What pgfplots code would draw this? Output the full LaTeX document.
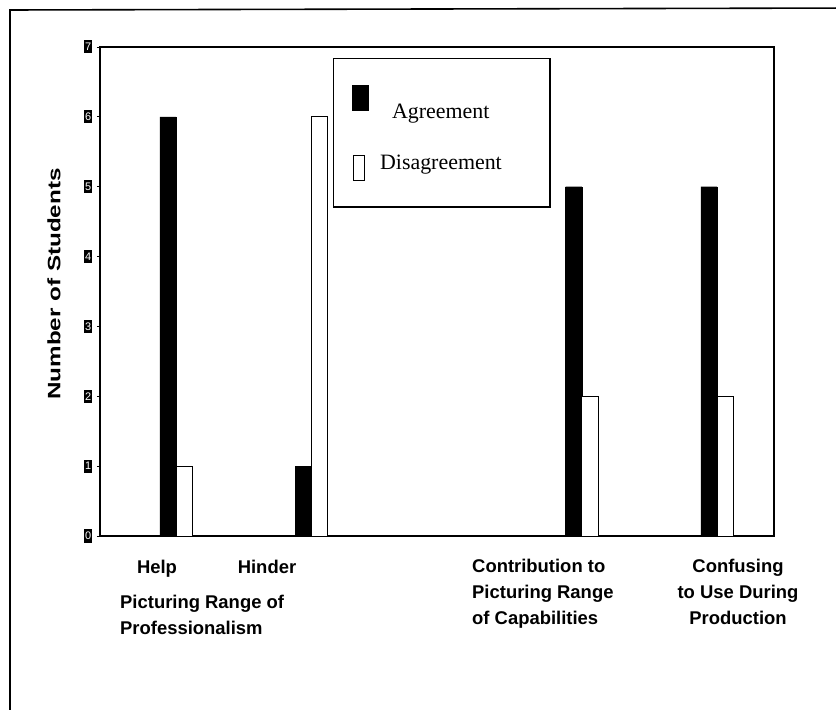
\documentclass[border=0pt]{standalone}
\usepackage{fontspec}
\setmainfont{Liberation Serif}
\newfontfamily\arial{Liberation Sans}
\usepackage{pgfplots}
\pgfplotsset{compat=1.18}
\newcommand{\tl}[1]{\arial\fontsize{11}{11}\selectfont #1}
\begin{document}
\begin{tikzpicture}
\begin{axis}[
  scale only axis, width=674bp, height=489bp,
  at={(0,0)}, anchor=south west,
  xmin=0.438, xmax=5.421, ymin=0, ymax=7,
  ybar=0pt, bar width=0.12,
  xtick=\empty,
  ytick={0,1,2,3,4,5,6,7},
  yticklabels={\tl{0},\tl{1},\tl{2},\tl{3},\tl{4},\tl{5},\tl{6},\tl{7}},
  tick align=outside, major tick length=3bp,
  ytick pos=left,
  axis line style={line width=1.4bp},
  y tick style={line width=0.8bp, black},
  yticklabel style={fill=black, text=white, inner sep=0pt, minimum width=7.5bp, minimum height=13bp, xshift=-5bp},
  legend style={at={(0.3457,0.9775)}, anchor=north west, draw=black, line width=1.4bp,
    inner xsep=18bp, inner ysep=26bp, row sep=31bp, column sep=9bp,
    font=\fontsize{22}{26}\selectfont, nodes={inner sep=2bp}},
  legend cell align=left,
]
\addplot[fill=black, draw=black,
  legend image code/.code={\fill[black] (0bp,1.5bp) rectangle (16bp,26.5bp);}]
  coordinates {(1,6) (2,1) (4,5) (5,5)};
\addlegendentry{\hspace*{12bp}Agreement}
\addplot[fill=white, draw=black, line width=1bp,
  legend image code/.code={\draw[black, line width=1.6bp, fill=white] (1bp,-17.5bp) rectangle (12bp,7.5bp);}]
  coordinates {(1,1) (2,6) (4,2) (5,2)};
\addlegendentry{Disagreement\rule{28bp}{0pt}}
\end{axis}
\tikzset{xl/.style={font=\arial\bfseries\fontsize{18.5}{26}\selectfont, inner sep=0}}
\node[xl, anchor=north] at (57bp,-24bp) {Help};
\node[xl, anchor=north] at (167bp,-24bp) {Hinder};
\node[xl, anchor=north west, align=left] at (20bp,-59bp) {Picturing Range of\\Professionalism};
\node[xl, anchor=north west, align=left] at (372bp,-23bp) {Contribution to\\Picturing Range\\of Capabilities};
\node[xl, anchor=north, align=center] at (638bp,-23bp) {Confusing\\to Use During\\Production};
\node[rotate=90, font=\arial\bfseries\fontsize{18}{18}\selectfont, inner sep=0] at (-46bp,252bp) {\scalebox{1.35}[1]{Number of Students}};
\draw[line width=1.6bp] (-90bp,-200bp) -- (-90bp,526bp) -- (760bp,528bp);
\pgfresetboundingbox
\useasboundingbox (-100bp,-174bp) rectangle (736bp,536bp);
\end{tikzpicture}
\end{document}
